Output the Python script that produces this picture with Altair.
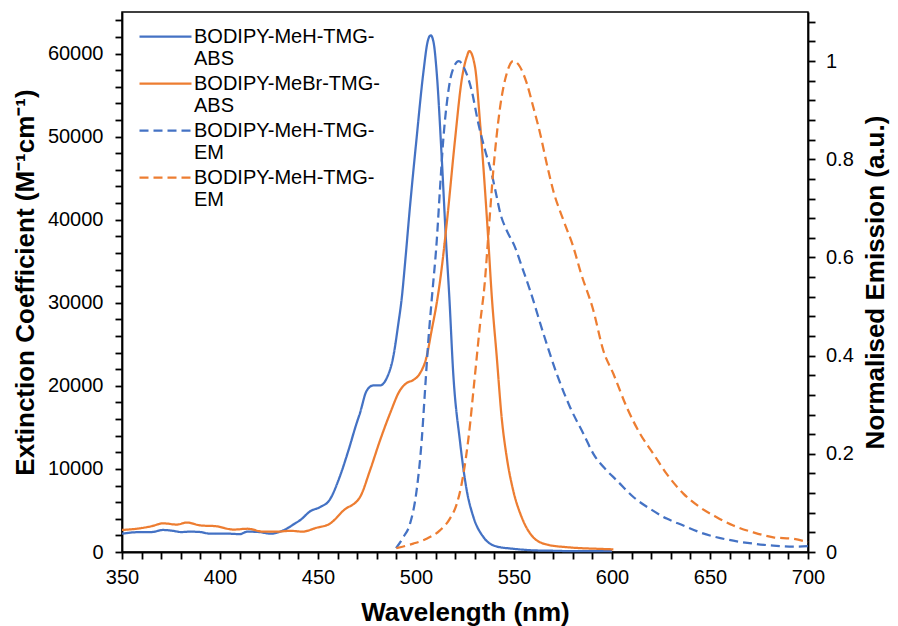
import altair as alt
import pandas as pd

# ---- data ----
abs_meh_wl = [350, 355, 360, 365, 371, 376, 380, 385, 390, 395, 400, 405, 410, 414, 420, 426, 430, 434,
              438, 441, 446, 451, 456, 461, 465.5, 469.7, 471.4, 474.8, 478.2, 481.6, 485, 488.4, 491,
              492.7, 494.5, 496.9, 500.3, 503.7, 506, 507.5, 509, 510.6, 513.1, 515.3, 517, 519, 522.4,
              525.9, 529.3, 534.4, 541.2, 549.6, 560, 570, 580, 590, 600]
abs_meh_eps = [2200, 2350, 2400, 2400, 2650, 2550, 2400, 2450, 2400, 2200, 2200, 2200, 2150, 2450, 2400,
               2200, 2400, 2800, 3400, 3850, 4900, 5400, 6300, 9000, 12200, 15500, 16700, 19400, 20050,
               20050, 20900, 23500, 27500, 30500, 35000, 41500, 49800, 57600, 61500, 62200, 61300, 57600,
               47600, 37500, 30700, 21500, 13400, 7400, 4200, 1800, 660, 390, 200, 150, 100, 100, 100]

abs_mebr_wl = [350, 359, 365, 371, 378, 383, 390, 398, 407, 414, 422, 429, 436, 442, 449, 456, 463, 471.4,
               476.5, 481.6, 486.7, 491.8, 495.3, 498.6, 502, 505.4, 508, 510.6, 512.2, 515.7, 519.9,
               523.3, 525.9, 527.2, 530.1, 532.7, 535.2, 536.9, 538.6, 541.2, 543.7, 546.3, 549.6, 553.9,
               559.8, 566.7, 576.9, 585, 592.2, 600.7]
abs_mebr_eps = [2650, 2850, 3100, 3450, 3300, 3550, 3200, 3100, 2700, 2800, 2450, 2450, 2550, 2450, 2900,
                3400, 5000, 6600, 9800, 13400, 16650, 19450, 20350, 20700, 21500, 23500, 26700, 30000,
                32500, 39600, 49600, 56800, 59600, 60300, 58400, 51600, 43600, 37500, 31000, 23500, 16200,
                11400, 7400, 4200, 1780, 900, 580, 450, 390, 320]

em_meh_wl = [489.8, 493.5, 496.9, 500.3, 502.9, 504.6, 506.3, 508, 510.6, 512.2, 513.9, 515.9, 518.2,
             521.8, 525, 528.4, 531.8, 535.2, 538.6, 541.2, 543, 546.3, 550.5, 554.3, 558.2, 565, 571.8,
             578.6, 585.4, 590.5, 597.3, 602.4, 610.9, 619.4, 627.9, 636.4, 644.9, 653.4, 661.9, 672.1,
             682.3, 692.5, 700]
em_meh_val = [0.008, 0.03, 0.057, 0.125, 0.227, 0.329, 0.431, 0.513, 0.635, 0.737, 0.839, 0.92, 0.975,
              1.0, 0.982, 0.94, 0.873, 0.819, 0.771, 0.723, 0.69, 0.655, 0.621, 0.578, 0.533, 0.445, 0.363,
              0.295, 0.241, 0.2, 0.166, 0.146, 0.112, 0.088, 0.068, 0.054, 0.04, 0.03, 0.023, 0.017,
              0.013, 0.011, 0.012]

em_mebr_wl = [490, 498.6, 505.4, 512.2, 517.3, 520.8, 523.3, 525.5, 527.6, 529.3, 531, 532.7, 535, 537,
              539.5, 542.7, 546.3, 549.6, 553.1, 556.5, 559.8, 563.3, 566.7, 570.1, 575.2, 580.3, 584,
              590.5, 595.6, 600.7, 607.5, 614.3, 621.1, 627.9, 636.4, 644.9, 653.4, 661.9, 672.1, 682.3,
              692.5, 700]
em_mebr_val = [0.008, 0.017, 0.027, 0.044, 0.068, 0.098, 0.139, 0.193, 0.261, 0.329, 0.397, 0.465, 0.545,
               0.65, 0.78, 0.9, 0.975, 1.0, 0.988, 0.955, 0.907, 0.853, 0.791, 0.735, 0.676, 0.621, 0.57,
               0.492, 0.41, 0.363, 0.295, 0.241, 0.2, 0.159, 0.119, 0.091, 0.071, 0.054, 0.04, 0.03,
               0.027, 0.02]

series_keys = ["meh_abs", "mebr_abs", "meh_em", "mebr_em"]
legend_lines = [["BODIPY-MeH-TMG-", "ABS"], ["BODIPY-MeBr-TMG-", "ABS"],
                ["BODIPY-MeH-TMG-", "EM"], ["BODIPY-MeH-TMG-", "EM"]]
series_colors = ["#4472C4", "#ED7D31", "#4472C4", "#ED7D31"]
series_dashes = [[1, 0], [1, 0], [9, 5], [9, 5]]

x_ticks = list(range(350, 701, 10))
left_ticks = list(range(0, 64001, 2000))
right_ticks = [round(0.04 * k, 2) for k in range(28)]

# ---- tables ----
abs_df = pd.concat([
    pd.DataFrame({"wl": abs_meh_wl, "eps": abs_meh_eps, "series": series_keys[0]}),
    pd.DataFrame({"wl": abs_mebr_wl, "eps": abs_mebr_eps, "series": series_keys[1]}),
])
em_df = pd.concat([
    pd.DataFrame({"wl": em_meh_wl, "em": em_meh_val, "series": series_keys[2]}),
    pd.DataFrame({"wl": em_mebr_wl, "em": em_mebr_val, "series": series_keys[3]}),
])

label_expr = ""
for k, lines in zip(series_keys, legend_lines):
    label_expr += f"datum.label == '{k}' ? ['{lines[0]}', '{lines[1]}'] : "
label_expr += "datum.label"

FONT = "Liberation Sans"

color = alt.Color(
    "series:N",
    scale=alt.Scale(domain=series_keys, range=series_colors),
    legend=alt.Legend(
        title=None, orient="none", legendX=29, legendY=10, labelExpr=label_expr,
        symbolType="M-2,0L2,0", symbolSize=676, symbolStrokeWidth=2.25,
        labelFont=FONT, labelFontSize=20, labelColor="black", labelOffset=14,
        rowPadding=0, padding=0, labelLimit=400,
    ),
)
dash = alt.StrokeDash("series:N", scale=alt.Scale(domain=series_keys, range=series_dashes), legend=None)

x_enc = alt.X(
    "wl:Q",
    scale=alt.Scale(domain=[350, 700], nice=False, zero=False),
    axis=alt.Axis(
        values=x_ticks, labelExpr="datum.value % 50 == 0 ? datum.label : ''", format="d",
        title="Wavelength (nm)", labelOverlap=False, labelFlush=False, ticks=True, tickSize=7,
        labelPadding=8, titleY=68.5, titleBaseline="alphabetic",
    ),
)

abs_layer = alt.Chart(abs_df).mark_line(strokeWidth=2.25, interpolate="monotone").encode(
    x=x_enc,
    y=alt.Y(
        "eps:Q",
        scale=alt.Scale(domain=[0, 65000], nice=False),
        axis=alt.Axis(
            orient="left", values=left_ticks, format="d",
            labelExpr="datum.value % 10000 == 0 ? datum.label : ''",
            title="Extinction Coefficient (M⁻¹cm⁻¹)", labelOverlap=False, labelFlush=False,
            ticks=True, tickSize=7, labelPadding=12, titleAngle=270, titleX=-97,
            titleBaseline="middle", titleAlign="center",
        ),
    ),
    color=color,
    strokeDash=dash,
)

em_layer = alt.Chart(em_df).mark_line(strokeWidth=2.25, interpolate="monotone").encode(
    x=x_enc,
    y=alt.Y(
        "em:Q",
        scale=alt.Scale(domain=[0, 1.1], nice=False),
        axis=alt.Axis(
            orient="right", values=right_ticks,
            labelExpr="abs(datum.value*5 - round(datum.value*5)) < 0.001 ? format(datum.value, '.1~f') : ''",
            title="Normalised Emission (a.u.)", labelOverlap=False, labelFlush=False,
            ticks=True, tickSize=7, labelPadding=10.5, titleAngle=270, titleX=67,
            titleBaseline="middle", titleAlign="center",
        ),
    ),
    color=color,
    strokeDash=dash,
)

chart = (
    alt.layer(abs_layer, em_layer)
    .resolve_scale(y="independent")
    .properties(
        width=686, height=540,
        autosize=alt.AutoSizeParams(type="none"),
        padding={"left": 122, "top": 12, "right": 90, "bottom": 75},
        background="white",
    )
    .configure_view(stroke="black", strokeWidth=1.5)
    .configure_axis(
        labelFont=FONT, labelFontSize=20, labelColor="black",
        titleFont=FONT, titleFontSize=26, titleFontWeight="bold", titleColor="black",
        domainColor="black", domainWidth=1.8, tickColor="black", tickWidth=1.8, grid=False,
    )
)

chart.save("out.html", embed_options={"renderer": "svg", "actions": False})
